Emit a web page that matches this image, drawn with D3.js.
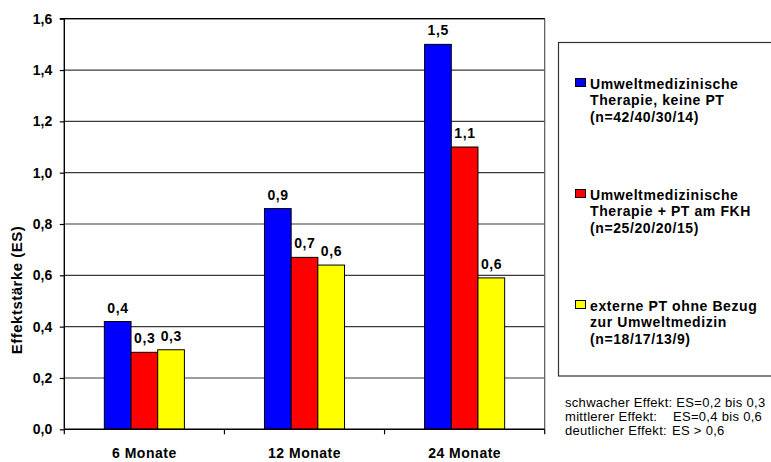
<!DOCTYPE html>
<html>
<head>
<meta charset="utf-8">
<script src="https://cdn.jsdelivr.net/npm/d3@7"></script>
<style>
  html, body { margin: 0; padding: 0; background: #fff; }
  svg { display: block; font-family: "Liberation Sans", Arial, Helvetica, sans-serif; }
</style>
</head>
<body>
<svg id="chart" width="771" height="462"></svg>
<script>
// Effektstärken nach Behandlungsgruppe und Katamnesezeitpunkt
const categories = ["6 Monate", "12 Monate", "24 Monate"];
const seriesKeys = ["umwelt", "umweltPT", "extern"];
const umweltKeinePT = [0.42, 0.86, 1.50];
const umweltMitPT   = [0.30, 0.67, 1.10];
const externePT     = [0.31, 0.64, 0.59];
const seriesColors  = ["#0000FF", "#FF0000", "#FFFF00"];
const legendLines = [
  ["Umweltmedizinische", "Therapie, keine PT", "(n=42/40/30/14)"],
  ["Umweltmedizinische", "Therapie + PT am FKH", "(n=25/20/20/15)"],
  ["externe PT ohne Bezug", "zur Umweltmedizin", "(n=18/17/13/9)"]
];
const yTicks = [0, 0.2, 0.4, 0.6, 0.8, 1.0, 1.2, 1.4, 1.6];
const yTitle = "Effektstärke (ES)";
const footnote = [
  ["schwacher Effekt: ES=0,2 bis 0,3", null],
  ["mittlerer Effekt:", "ES=0,4 bis 0,6"],
  ["deutlicher Effekt:", "ES > 0,6"]
];

const seriesValues = [umweltKeinePT, umweltMitPT, externePT];
const rows = categories.map((c, i) => ({
  category: c,
  values: seriesKeys.map((k, s) => ({ key: k, value: seriesValues[s][i], color: seriesColors[s] }))
}));

const svg = d3.select("#chart");
const plot = { left: 64.3, right: 544.7, top: 18.7, bottom: 429.3 };

const fmt = v => d3.format(".1f")(v).replace(".", ",");

const y = d3.scaleLinear().domain([0, 1.6]).range([plot.bottom, plot.top]);
const x0 = d3.scaleBand().domain(categories).range([plot.left, plot.right]).paddingInner(0).paddingOuter(0);
const x1 = d3.scaleBand().domain(seriesKeys)
  .range([x0.bandwidth() * 0.25, x0.bandwidth() * 0.75]).padding(0);

// horizontal grid lines
svg.append("g")
  .selectAll("line")
  .data(yTicks.filter(t => t > 0))
  .join("line")
  .attr("x1", plot.left).attr("x2", plot.right)
  .attr("y1", d => y(d)).attr("y2", d => y(d))
  .attr("stroke", "#3a3a3a").attr("stroke-width", 1.2);

// plot frame (right edge)
svg.append("line")
  .attr("x1", plot.right).attr("x2", plot.right)
  .attr("y1", plot.top).attr("y2", plot.bottom)
  .attr("stroke", "#555").attr("stroke-width", 1.2);

// bars
const groups = svg.append("g")
  .selectAll("g")
  .data(rows)
  .join("g")
  .attr("transform", d => `translate(${x0(d.category)},0)`);

groups.selectAll("rect")
  .data(d => d.values)
  .join("rect")
  .attr("x", d => x1(d.key))
  .attr("y", d => y(d.value))
  .attr("width", x1.bandwidth())
  .attr("height", d => y(0) - y(d.value))
  .attr("fill", d => d.color)
  .attr("stroke", "#000")
  .attr("stroke-width", 1);

// value labels
groups.selectAll("text")
  .data(d => d.values)
  .join("text")
  .attr("x", d => x1(d.key) + x1.bandwidth() / 2 + 0.3)
  .attr("y", d => y(d.value) - 9)
  .attr("text-anchor", "middle")
  .attr("font-size", 14)
  .attr("font-weight", "bold")
  .attr("letter-spacing", 0.6)
  .text(d => fmt(d.value));

// y axis
const yAxis = svg.append("g")
  .attr("transform", `translate(${plot.left},0)`)
  .call(d3.axisLeft(y).tickValues(yTicks).tickFormat(fmt).tickSize(4.5).tickPadding(7.5));
yAxis.select(".domain").attr("stroke", "#000").attr("stroke-width", 1.4).attr("d", `M0,${plot.top}V${plot.bottom}`);
yAxis.selectAll(".tick line").attr("stroke", "#000").attr("stroke-width", 1.2);
yAxis.selectAll(".tick text")
  .attr("font-family", "Liberation Sans, Arial, sans-serif")
  .attr("font-size", 14).attr("font-weight", "bold").attr("fill", "#000");

// top frame edge
svg.append("line")
  .attr("x1", plot.left - 4.5).attr("x2", plot.right)
  .attr("y1", plot.top).attr("y2", plot.top)
  .attr("stroke", "#000").attr("stroke-width", 1.2);

// x axis: category labels
const xAxis = svg.append("g")
  .attr("transform", `translate(0,${plot.bottom})`)
  .call(d3.axisBottom(x0).tickSize(0).tickPadding(19));
xAxis.select(".domain").attr("stroke", "#000").attr("stroke-width", 1.4).attr("d", `M${plot.left},0H${plot.right}`);
xAxis.selectAll(".tick text")
  .attr("font-family", "Liberation Sans, Arial, sans-serif")
  .attr("font-size", 14).attr("font-weight", "bold").attr("fill", "#000")
  .attr("letter-spacing", 0.5);

// x axis: boundary tick marks between categories
const bounds = categories.map(c => x0(c)).concat([x0(categories[categories.length - 1]) + x0.bandwidth()]);
xAxis.append("g").selectAll("line")
  .data(bounds)
  .join("line")
  .attr("x1", d => d).attr("x2", d => d)
  .attr("y1", 0).attr("y2", 5)
  .attr("stroke", "#000").attr("stroke-width", 1.2);

// y axis title
svg.append("text")
  .attr("transform", "translate(22,290) rotate(-90)")
  .attr("text-anchor", "middle")
  .attr("font-size", 15)
  .attr("font-weight", "bold")
  .attr("letter-spacing", 0.5)
  .text(yTitle);

// legend
const legend = svg.append("g");
legend.append("rect")
  .attr("x", 558.5).attr("y", 42.5)
  .attr("width", 240).attr("height", 333.5)
  .attr("fill", "none").attr("stroke", "#333").attr("stroke-width", 1.2);

const entry = legend.selectAll("g.entry")
  .data(seriesKeys.map((k, i) => ({ key: k, color: seriesColors[i], lines: legendLines[i] })))
  .join("g")
  .attr("class", "entry")
  .attr("transform", (d, i) => `translate(0,${i * 111})`);

entry.append("rect")
  .attr("x", 575.5).attr("y", 78.5)
  .attr("width", 10).attr("height", 8)
  .attr("fill", d => d.color)
  .attr("stroke", "#000").attr("stroke-width", 1);

entry.append("text")
  .attr("font-size", 14)
  .attr("font-weight", "bold")
  .attr("letter-spacing", 0.6)
  .selectAll("tspan")
  .data(d => d.lines)
  .join("tspan")
  .attr("x", 590)
  .attr("y", (d, i) => 88.5 + i * 16.5)
  .text(d => d);

// effect size notes
const notes = svg.append("g")
  .attr("font-size", 13)
  .attr("letter-spacing", 0.3);
const secondColX = [null, 673, 672];
footnote.forEach((row, i) => {
  notes.append("text").attr("x", 565).attr("y", 407 + i * 14.2).text(row[0]);
  if (row[1]) notes.append("text").attr("x", secondColX[i]).attr("y", 407 + i * 14.2).text(row[1]);
});
</script>
</body>
</html>
